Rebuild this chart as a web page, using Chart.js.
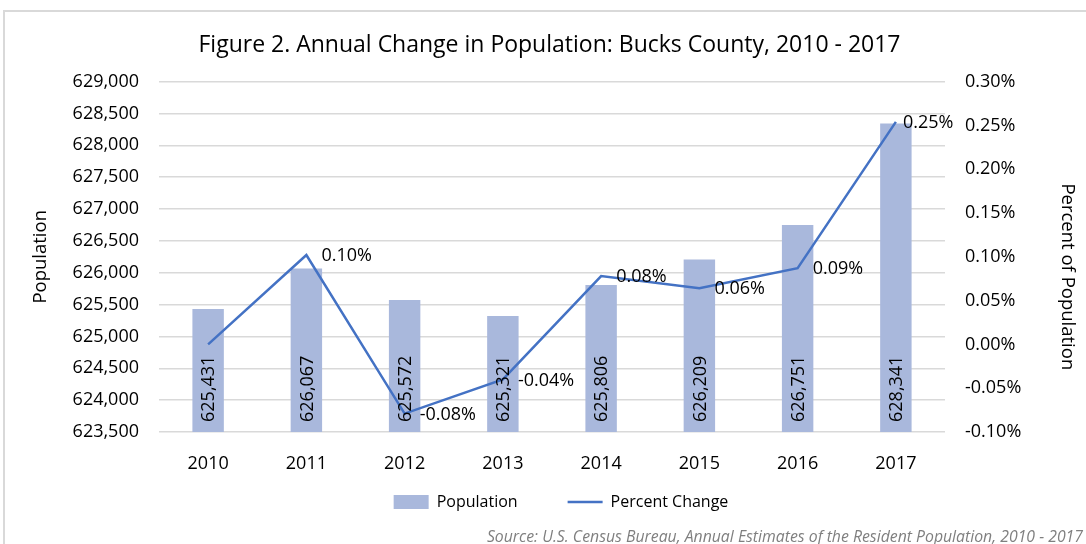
<!DOCTYPE html>
<html>
<head>
<meta charset="utf-8">
<script src="https://cdn.jsdelivr.net/npm/chart.js@4.4.1/dist/chart.umd.min.js"></script>
<style>
  html, body { margin: 0; padding: 0; background: #fff; }
  #wrap { position: relative; width: 1086px; height: 544px; overflow: hidden; }
  #frame { position: absolute; left: 3px; top: 10px; width: 1200px; height: 700px; border: 2px solid #d9d9d9; box-sizing: border-box; }
  #c { position: absolute; left: 0; top: 0; }
  #src { position: absolute; right: 3px; top: 525px; font: italic 15.8px "Open Sans", sans-serif; color: #7f7f7f; white-space: nowrap; }
</style>
</head>
<body>
<div id="wrap">
  <div id="frame"></div>
  <canvas id="c" width="1086" height="544"></canvas>
  <div id="src">Source: U.S. Census Bureau, Annual Estimates of the Resident Population, 2010 - 2017</div>
</div>
<script>
"use strict";
// dati
const years = ["2010", "2011", "2012", "2013", "2014", "2015", "2016", "2017"];
const population = [625431, 626067, 625572, 625321, 625806, 626209, 626751, 628341];
const percentChange = [0.000, 0.102, -0.079, -0.040, 0.078, 0.064, 0.087, 0.254];
const popTicks = [623500, 629000, 500];
const pctTicks = [-0.10, 0.30, 0.05];

const fontName = "'Open Sans', 'Noto Sans', sans-serif";

// etichette sulle barre e sulla linea
const etichette = {
    id: "etichette",
    afterDatasetsDraw(chart) {
        const ctx = chart.ctx;
        const base = chart.chartArea.bottom;
        ctx.save();
        ctx.fillStyle = "#000";
        // barre: testo verticale dal fondo
        let meta = chart.getDatasetMeta(0);
        ctx.font = "18px " + fontName;
        meta.data.forEach(function (bar, i) {
            ctx.save();
            ctx.translate(bar.x, base - 10);
            ctx.rotate(-Math.PI / 2);
            ctx.textAlign = "left";
            ctx.textBaseline = "middle";
            ctx.fillStyle = "#000";
            ctx.fillText(population[i].toLocaleString("en-US"), 0, 1);
            ctx.restore();
        });
        // linea: testo a destra del punto
        meta = chart.getDatasetMeta(1);
        ctx.font = "18px " + fontName;
        ctx.textAlign = "left";
        ctx.textBaseline = "middle";
        meta.data.forEach(function (pt, i) {
            if (i === 0) return;
            let off = (i === meta.data.length - 1) ? 7 : 15;
            ctx.fillText(percentChange[i].toFixed(2) + "%", pt.x + off, pt.y + 1);
        });
        ctx.restore();
    }
};

let chart = new Chart(document.getElementById("c"), {
    type: "bar",
    data: {
        labels: years,
        datasets: [{
            label: "Population",
            data: population,
            backgroundColor: "#a9b8dc",
            yAxisID: "y",
            barPercentage: 0.32,
            categoryPercentage: 1,
            order: 2
        }, {
            type: "line",
            label: "Percent Change",
            data: percentChange,
            borderColor: "#4472c4",
            backgroundColor: "#4472c4",
            borderWidth: 2.5,
            pointRadius: 0,
            tension: 0,
            yAxisID: "y1",
            order: 1
        }]
    },
    options: {
        responsive: false,
        animation: false,
        layout: { padding: { left: 40, right: 4, top: 10, bottom: 24 } },
        plugins: {
            title: {
                display: true,
                text: "Figure 2. Annual Change in Population: Bucks County, 2010 - 2017\u2003",
                color: "#000",
                font: { family: fontName, size: 23, weight: "normal" },
                padding: { top: 22, bottom: 22 }
            },
            legend: {
                position: "bottom",
                labels: {
                    color: "#000",
                    font: { family: fontName, size: 16 },
                    usePointStyle: true,
                    pointStyleWidth: 35,
                    boxHeight: 14,
                    padding: 18,
                    generateLabels(chart) {
                        return [{
                            text: "Population\u2003\u2003", fillStyle: "#a9b8dc", strokeStyle: "#a9b8dc",
                            lineWidth: 0, datasetIndex: 0, fontColor: "#000", pointStyle: "rect"
                        }, {
                            text: "Percent Change", fillStyle: "#4472c4", strokeStyle: "#4472c4",
                            lineWidth: 2.5, datasetIndex: 1, pointStyle: "line", fontColor: "#000"
                        }];
                    }
                }
            },
            tooltip: { enabled: false }
        },
        scales: {
            x: {
                grid: { display: false },
                border: { display: false },
                ticks: { color: "#000", font: { family: fontName, size: 18 }, padding: 13 },
                afterFit(scale) { scale.height = 44; }
            },
            y: {
                position: "left",
                min: popTicks[0],
                max: popTicks[1],
                ticks: {
                    stepSize: popTicks[2],
                    color: "#000",
                    font: { family: fontName, size: 18 },
                    padding: 20,
                    callback: function (v) { return v.toLocaleString("en-US"); }
                },
                grid: { color: "#d9d9d9", lineWidth: 1.5, drawTicks: false },
                border: { display: false },
                title: {
                    display: true, text: "Population", color: "#000",
                    font: { family: fontName, size: 18.5 },
                    padding: { top: -10, bottom: 4 }
                },
                afterFit(scale) { scale.width = 119; }
            },
            y1: {
                position: "right",
                min: pctTicks[0],
                max: pctTicks[1],
                ticks: {
                    stepSize: pctTicks[2],
                    color: "#000",
                    font: { family: fontName, size: 18 },
                    padding: 20,
                    callback: function (v) { return v.toFixed(2) + "%"; }
                },
                grid: { display: false, drawTicks: false },
                border: { display: false },
                title: {
                    display: true, text: "\u2003\u2003\u2009Percent of Population", color: "#000",
                    font: { family: fontName, size: 18.5 }
                },
                afterFit(scale) { scale.width = 137; }
            }
        }
    },
    plugins: [etichette]
});
</script>
</body>
</html>
